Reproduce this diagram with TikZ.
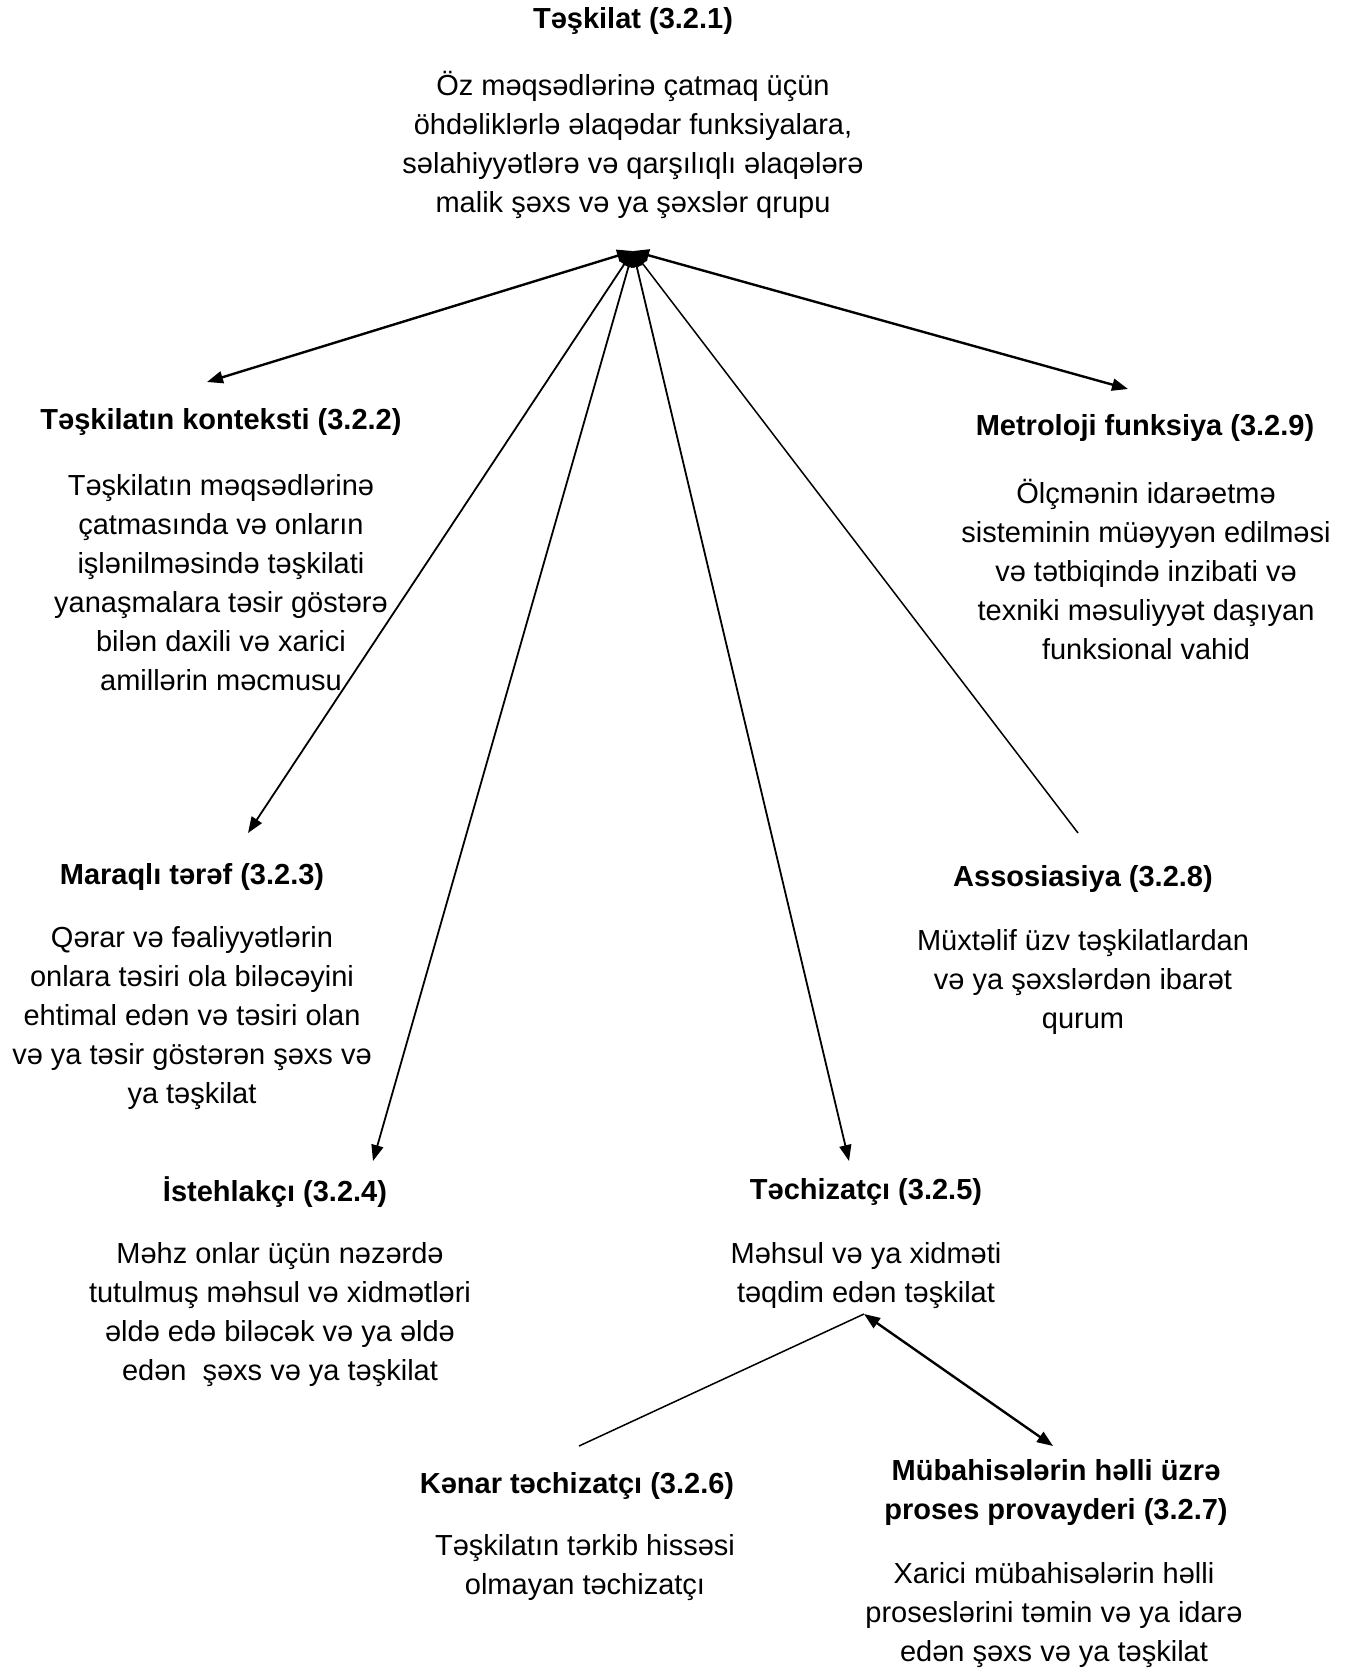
\documentclass[tikz,border=0pt]{standalone}
\usepackage{fontspec}
\setmainfont{Liberation Sans}
\usetikzlibrary{arrows.meta}
\tikzset{
  ttl/.style={font=\fontsize{14.5}{19.5}\selectfont\bfseries, align=center, inner sep=0pt},
  body/.style={font=\fontsize{14.5}{19.5}\selectfont, align=center, inner sep=0pt},
  thick line/.style={line width=1.2pt},
  mid line/.style={line width=0.9pt},
  thin line/.style={line width=0.75pt},
  arrw/.tip={Triangle[length=8pt,width=6pt]}
}
\begin{document}
\begin{tikzpicture}[x=0.5pt,y=-0.5pt]
\useasboundingbox (0,0) rectangle (1353,1673);
% 3.2.1
\node[ttl] (t1) at (633,21) {Təşkilat (3.2.1)};
\node[body] (b1) at (633,145) {Öz məqsədlərinə çatmaq üçün\\öhdəliklərlə əlaqədar funksiyalara,\\səlahiyyətlərə və qarşılıqlı əlaqələrə\\malik şəxs və ya şəxslər qrupu};
% 3.2.2
\node[ttl] (t2) at (221,422) {Təşkilatın konteksti (3.2.2)};
\node[body] (b2) at (221,583) {Təşkilatın məqsədlərinə\\çatmasında və onların\\işlənilməsində təşkilati\\yanaşmalara təsir göstərə\\bilən daxili və xarici\\amillərin məcmusu};
% 3.2.9
\node[ttl] (t9) at (1145,428) {Metroloji funksiya (3.2.9)};
\node[body] (b9) at (1146,570) {Ölçmənin idarəetmə\\sisteminin müəyyən edilməsi\\və tətbiqində inzibati və\\texniki məsuliyyət daşıyan\\funksional vahid};
% 3.2.3
\node[ttl] (t3) at (192,877) {Maraqlı tərəf (3.2.3)};
\node[body] (b3) at (192,1018) {Qərar və fəaliyyətlərin\\onlara təsiri ola biləcəyini\\ehtimal edən və təsiri olan\\və ya təsir göstərən şəxs və\\ya təşkilat};
% 3.2.8
\node[ttl] (t8) at (1083,879) {Assosiasiya (3.2.8)};
\node[body] (b8) at (1083,982) {Müxtəlif üzv təşkilatlardan\\və ya şəxslərdən ibarət\\qurum};
% 3.2.4
\node[ttl] (t4) at (275,1192) {İstehlakçı (3.2.4)};
\node[body] (b4) at (280,1315) {Məhz onlar üçün nəzərdə\\tutulmuş məhsul və xidmətləri\\əldə edə biləcək və ya əldə\\edən\ \ şəxs və ya təşkilat};
% 3.2.5
\node[ttl] (t5) at (866,1192) {Təchizatçı (3.2.5)};
\node[body] (b5) at (866,1276) {Məhsul və ya xidməti\\təqdim edən təşkilat};
% 3.2.6
\node[ttl] (t6) at (577,1486) {Kənar təchizatçı (3.2.6)};
\node[body] (b6) at (585,1568) {Təşkilatın tərkib hissəsi\\olmayan təchizatçı};
% 3.2.7
\node[ttl] (t7) at (1056,1492) {Mübahisələrin həlli üzrə\\proses provayderi (3.2.7)};
\node[body] (b7) at (1054,1615) {Xarici mübahisələrin həlli\\proseslərini təmin və ya idarə\\edən şəxs və ya təşkilat};
% connector points
\coordinate (hub) at (633,251);
\coordinate (e2) at (207,382);
\coordinate (e9) at (1128,389);
\coordinate (e3) at (248,833);
\coordinate (e4) at (373,1161);
\coordinate (e5) at (849,1161);
\coordinate (e8) at (1078,833);
\coordinate (hub2) at (864,1314);
\coordinate (e6) at (579,1446);
\coordinate (e7) at (1053,1446);
% connectors
\draw[thick line, arrw-arrw] (hub) -- (e2);
\draw[thick line, arrw-arrw] (hub) -- (e9);
\draw[mid line, arrw-arrw] (hub) -- (e3);
\draw[mid line, arrw-arrw] (hub) -- (e4);
\draw[mid line, arrw-arrw] (hub) -- (e5);
\draw[thin line, arrw-] (hub) -- (e8);
\draw[thin line] (hub2) -- (e6);
\draw[thick line, arrw-arrw] (hub2) -- (e7);
\end{tikzpicture}
\end{document}
